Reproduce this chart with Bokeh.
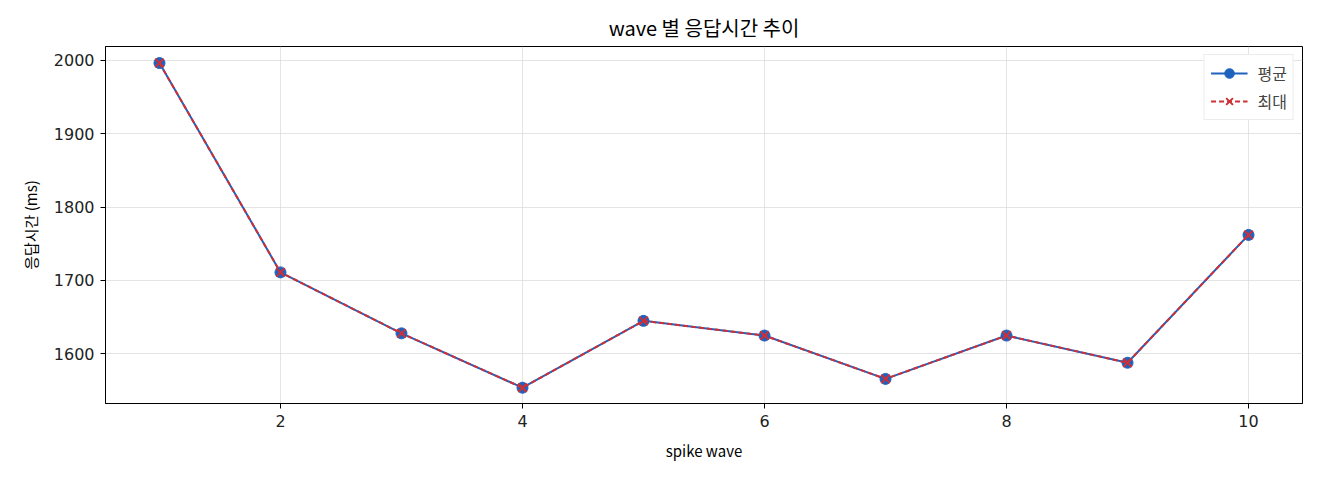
from bokeh.plotting import figure
from bokeh.models import Legend, LegendItem, Range1d, FixedTicker
from bokeh.embed import file_html
from bokeh.resources import INLINE

# spike wave별 응답시간 (ms)
waves = [1, 2, 3, 4, 5, 6, 7, 8, 9, 10]
avg_ms = [1996, 1711, 1628, 1554, 1645, 1625, 1566, 1625, 1588, 1762]
max_ms = [1996, 1711, 1628, 1554, 1645, 1625, 1566, 1625, 1588, 1762]

FONT = "Noto Sans CJK KR"
NUM_FONT = "DejaVu Sans"
BLUE = "#1f62bd"
RED = "#cf2f36"

p = figure(
    width=1312,
    height=472,
    title="wave 별 응답시간 추이",
    x_range=Range1d(0.554, 10.446),
    y_range=Range1d(1532.5, 2018.5),
    output_backend="svg",
    toolbar_location=None,
    min_border_left=105,
    min_border_right=10,
    min_border_top=46,
    min_border_bottom=69,
)

p.title.align = "center"
p.title.text_font = FONT
p.title.text_font_style = "normal"
p.title.text_font_size = "20px"
p.title.text_color = "black"

p.outline_line_color = "black"
p.outline_line_width = 1
p.outline_line_alpha = 1

p.xaxis.ticker = FixedTicker(ticks=[2, 4, 6, 8, 10])
p.yaxis.ticker = FixedTicker(ticks=[1600, 1700, 1800, 1900, 2000])
p.xaxis.axis_label = "spike wave"
p.yaxis.axis_label = "응답시간 (ms)"
for ax in (p.xaxis, p.yaxis):
    ax.axis_label_text_font = FONT
    ax.axis_label_text_font_style = "normal"
    ax.axis_label_text_font_size = "15px"
    ax.axis_label_text_color = "black"
    ax.axis_label_standoff = 10
    ax.major_label_text_font = NUM_FONT
    ax.major_label_text_font_size = "16px"
    ax.major_label_text_color = "#222222"
    ax.major_label_standoff = 6
    ax.axis_line_color = "black"
    ax.major_tick_line_color = "black"
    ax.major_tick_in = 0
    ax.major_tick_out = 5
    ax.minor_tick_line_color = None

p.grid.grid_line_color = "#d9d9d9"
p.grid.grid_line_alpha = 0.7

l1 = p.line(waves, avg_ms, line_color=BLUE, line_width=2)
s1 = p.scatter(waves, avg_ms, marker="circle", size=11, fill_color=BLUE, line_color=BLUE)
l2 = p.line(waves, max_ms, line_color=RED, line_width=2, line_dash="5 3")
s2 = p.scatter(waves, max_ms, marker="x", size=12, line_color=RED, line_width=2)

legend = Legend(
    items=[
        LegendItem(label="평균", renderers=[l1, s1]),
        LegendItem(label="최대", renderers=[l2, s2]),
    ],
    location="top_right",
    label_text_font=FONT,
    label_text_font_size="16px",
    label_standoff=10,
    border_line_color="#d9d9d9",
    border_line_width=1,
    background_fill_alpha=1,
    glyph_width=37,
    glyph_height=24,
    label_height=24,
    spacing=4,
    padding=6,
    margin=8,
)
p.add_layout(legend)

open("out.html", "w").write(file_html(p, INLINE))
